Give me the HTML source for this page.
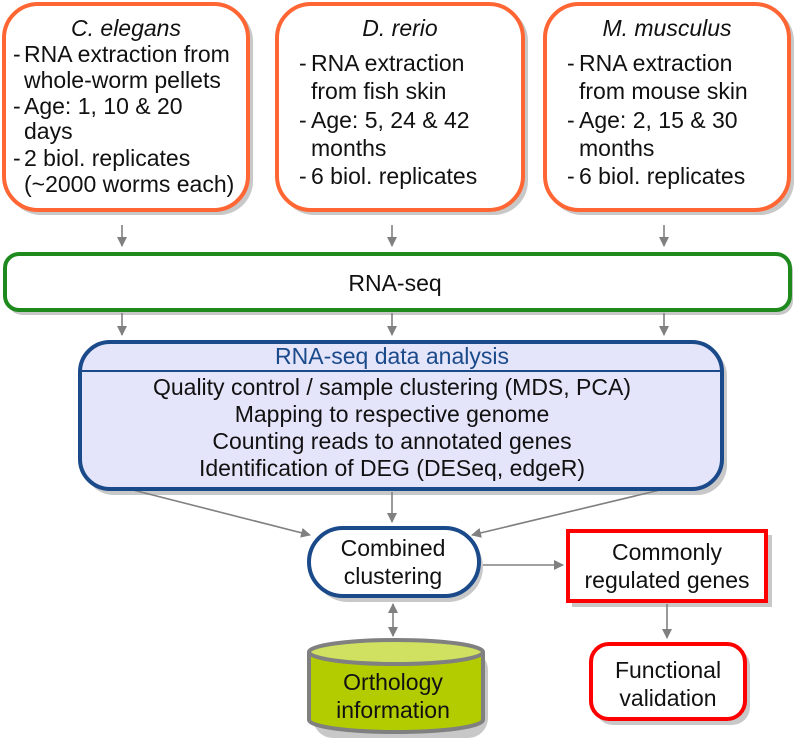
<!DOCTYPE html>
<html><head><meta charset="utf-8"><style>
html,body{margin:0;padding:0;background:#fff;}
svg{display:block;font-family:"Liberation Sans",Arial,sans-serif;}
</style></head><body>
<svg width="800" height="740" viewBox="0 0 800 740" xmlns="http://www.w3.org/2000/svg">
<defs>
<marker id="ah" markerWidth="10" markerHeight="10" refX="9" refY="5" orient="auto" markerUnits="userSpaceOnUse"><path d="M0,0 L10,5 L0,10 z" fill="#808080"/></marker>
<marker id="ahs" markerWidth="10" markerHeight="10" refX="1" refY="5" orient="auto" markerUnits="userSpaceOnUse"><path d="M10,0 L0,5 L10,10 z" fill="#808080"/></marker>
</defs>
<g fill="#c8c8c8">
<rect x="7" y="7" width="246" height="208" rx="34"/>
<rect x="280" y="7" width="248" height="208" rx="34"/>
<rect x="548" y="7" width="246" height="208" rx="34"/>
<rect x="8" y="257" width="785" height="58" rx="14"/>
<rect x="84" y="346" width="643" height="149" rx="30"/>
<rect x="313" y="532" width="170" height="70" rx="35"/>
<rect x="572" y="535" width="200" height="72"/>
<rect x="595" y="648" width="155" height="77" rx="18"/>
<rect x="313" y="650" width="175" height="88" rx="20"/>
</g>
<g fill="#fff" stroke="#ff6633" stroke-width="4">
<rect x="4" y="4" width="244" height="206" rx="34"/>
<rect x="277" y="4" width="246" height="206" rx="34"/>
<rect x="545" y="4" width="244" height="206" rx="34"/>
</g>
<g font-size="23" fill="#111">
<text x="126" y="36" text-anchor="middle" font-style="italic">C. elegans</text>
<text x="13" y="62">-</text><text x="24" y="62">RNA extraction from</text>
<text x="24" y="88">whole-worm pellets</text>
<text x="13" y="114">-</text><text x="24" y="114">Age: 1, 10 &amp; 20</text>
<text x="24" y="139">days</text>
<text x="13" y="166">-</text><text x="24" y="166">2 biol. replicates</text>
<text x="24" y="192">(~2000 worms  each)</text>

<text x="400" y="36" text-anchor="middle" font-style="italic">D. rerio</text>
<text x="299" y="71">-</text><text x="311" y="71">RNA extraction</text>
<text x="311" y="99">from fish skin</text>
<text x="299" y="128">-</text><text x="311" y="128">Age: 5, 24 &amp; 42</text>
<text x="311" y="156">months</text>
<text x="299" y="184">-</text><text x="311" y="184">6 biol. replicates</text>

<text x="667" y="36" text-anchor="middle" font-style="italic">M. musculus</text>
<text x="567" y="71">-</text><text x="579" y="71">RNA extraction</text>
<text x="579" y="99">from mouse skin</text>
<text x="567" y="128">-</text><text x="579" y="128">Age: 2, 15 &amp; 30</text>
<text x="579" y="156">months</text>
<text x="567" y="184">-</text><text x="579" y="184">6 biol. replicates</text>
</g>
<g stroke="#808080" stroke-width="1.6" fill="none" marker-end="url(#ah)">
<line x1="122" y1="225" x2="122" y2="246"/>
<line x1="392" y1="225" x2="392" y2="246"/>
<line x1="664" y1="225" x2="664" y2="246"/>
<line x1="122" y1="313" x2="122" y2="335"/>
<line x1="392" y1="313" x2="392" y2="335"/>
<line x1="664" y1="313" x2="664" y2="335"/>
<line x1="133" y1="490" x2="310" y2="535"/>
<line x1="392" y1="492" x2="392" y2="522"/>
<line x1="660" y1="490" x2="472" y2="535"/>
<line x1="483" y1="565" x2="563" y2="565"/>
<line x1="667" y1="604" x2="667" y2="638"/>
<line x1="393" y1="604" x2="393" y2="636" marker-start="url(#ahs)"/>
</g>
<rect x="5" y="254" width="785" height="56" rx="14" fill="#fff" stroke="#1e8a1e" stroke-width="4"/>
<text x="395" y="291" font-size="23" text-anchor="middle" fill="#111">RNA-seq</text>
<rect x="80" y="342" width="642" height="147" rx="30" fill="#e4e4fa" stroke="#1a4a8a" stroke-width="4"/>
<line x1="80" y1="371" x2="722" y2="371" stroke="#1a4a8a" stroke-width="2"/>
<g font-size="23" text-anchor="middle">
<text x="392" y="364" fill="#1a4a8a">RNA-seq data analysis</text>
<text x="392" y="395" fill="#111">Quality control / sample clustering (MDS, PCA)</text>
<text x="392" y="422" fill="#111">Mapping to respective genome</text>
<text x="392" y="449" fill="#111">Counting reads to annotated genes</text>
<text x="392" y="476" fill="#111">Identification of DEG (DESeq, edgeR)</text>
</g>
<rect x="309" y="528" width="170" height="68" rx="34" fill="#fff" stroke="#1a4a8a" stroke-width="4"/>
<g font-size="23" text-anchor="middle" fill="#111">
<text x="393" y="556">Combined</text>
<text x="393" y="584">clustering</text>
</g>
<rect x="568" y="531" width="198" height="70" fill="#fff" stroke="#ff0000" stroke-width="4"/>
<g font-size="23" text-anchor="middle" fill="#111">
<text x="667" y="560">Commonly</text>
<text x="667" y="588">regulated genes</text>
</g>
<rect x="591" y="644" width="154" height="75" rx="18" fill="#fff" stroke="#ff0000" stroke-width="4"/>
<g font-size="23" text-anchor="middle" fill="#111">
<text x="668" y="678">Functional</text>
<text x="668" y="706">validation</text>
</g>
<path d="M309,652 L309,720 A87,12 0 0 0 483,720 L483,652" fill="#b2cc00" stroke="#808080" stroke-width="4"/>
<ellipse cx="396" cy="652" rx="87" ry="12" fill="#d0e060" stroke="#808080" stroke-width="4"/>
<g font-size="23" text-anchor="middle" fill="#111">
<text x="393" y="690">Orthology</text>
<text x="393" y="718">information</text>
</g>
</svg>
</body></html>
